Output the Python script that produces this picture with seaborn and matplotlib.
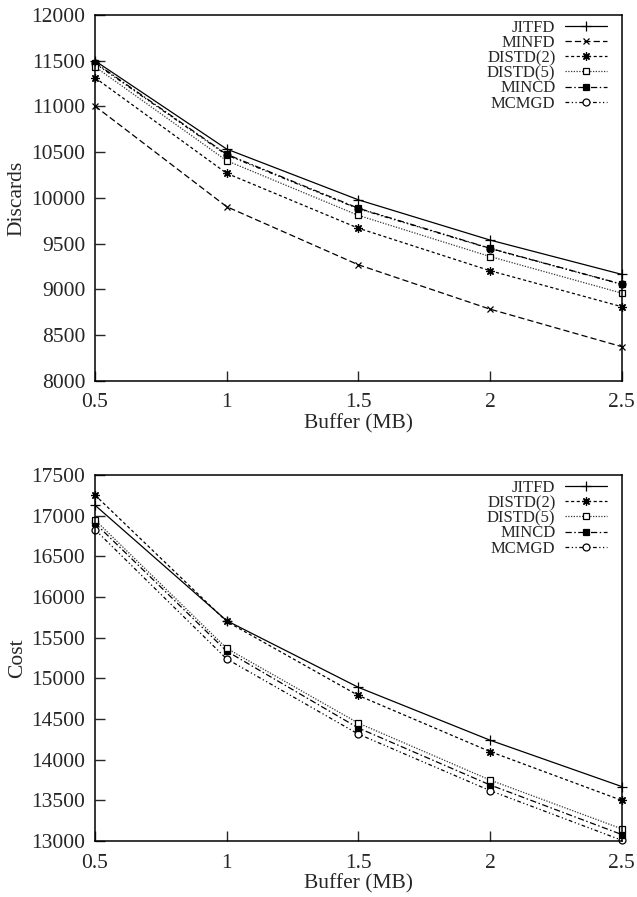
import pandas as pd
import matplotlib
matplotlib.use("Agg")
import matplotlib.pyplot as plt
import seaborn as sns

# buffer sizes (MB)
buffer_mb = [0.5, 1, 1.5, 2, 2.5]

# top panel: discards
jitfd_discards = [11500, 10535, 9980, 9540, 9165]
minfd_discards = [11005, 9905, 9270, 8785, 8375]
distd2_discards = [11315, 10270, 9670, 9205, 8812]
distd5_discards = [11435, 10408, 9810, 9360, 8960]
mincd_discards = [11480, 10478, 9888, 9450, 9058]
mcmgd_discards = [11472, 10470, 9882, 9447, 9056]

# bottom panel: cost
jitfd_cost = [17130, 15710, 14890, 14240, 13670]
distd2_cost = [17255, 15700, 14790, 14100, 13500]
distd5_cost = [16950, 15370, 14450, 13750, 13150]
mincd_cost = [16910, 15335, 14390, 13690, 13080]
mcmgd_cost = [16830, 15240, 14315, 13620, 13010]

discard_series = {
    "JITFD": jitfd_discards,
    "MINFD": minfd_discards,
    "DISTD(2)": distd2_discards,
    "DISTD(5)": distd5_discards,
    "MINCD": mincd_discards,
    "MCMGD": mcmgd_discards,
}
cost_series = {
    "JITFD": jitfd_cost,
    "DISTD(2)": distd2_cost,
    "DISTD(5)": distd5_cost,
    "MINCD": mincd_cost,
    "MCMGD": mcmgd_cost,
}

# gnuplot-ish line/point styles
styles = {
    "JITFD": dict(ls="-", marker="+", mfc="black", ms=7, color="black", z=2.5),
    "MINFD": dict(ls=(0, (5, 2.5)), marker="x", mfc="black", ms=5, color="black", z=2.4),
    "DISTD(2)": dict(ls=(0, (2.5, 2)), marker=(8, 2, 0), mfc="black", ms=6, color="black", z=2.3),
    "DISTD(5)": dict(ls=(0, (1, 1.2)), marker="s", mfc="white", ms=5, color="#333333", z=2.2),
    "MINCD": dict(ls=(0, (5, 2, 1.2, 2)), marker="s", mfc="black", ms=5, color="black", z=2.1),
    "MCMGD": dict(ls=(0, (3, 2, 1, 2, 1, 2)), marker="o", mfc="white", ms=5, color="black", z=2.0),
}

sns.set_style("ticks")
plt.rcParams["font.family"] = ["Liberation Serif", "DejaVu Serif"]

fig = plt.figure(figsize=(6.37, 8.97), dpi=100)
ax_top = fig.add_axes([0.149, 0.5753, 0.827, 0.408])
ax_bot = fig.add_axes([0.149, 0.0624, 0.827, 0.408])


def draw_panel(ax, series, ylabel, ylim, yticks):
    for name, vals in series.items():
        df = pd.DataFrame({"buffer": buffer_mb, "value": vals})
        st = styles[name]
        sns.lineplot(data=df, x="buffer", y="value", ax=ax, color=st["color"],
                     linestyle=st["ls"], marker=st["marker"], markersize=st["ms"],
                     markerfacecolor=st["mfc"], markeredgecolor="black",
                     markeredgewidth=0.9, linewidth=0.9, label=name,
                     zorder=st["z"], clip_on=False)
    ax.set_xlim(0.5, 2.5)
    ax.set_ylim(*ylim)
    ax.set_xticks(buffer_mb)
    ax.set_xticklabels(["0.5", "1", "1.5", "2", "2.5"])
    ax.set_yticks(yticks)
    ax.set_xlabel("Buffer (MB)", fontsize=15.5, labelpad=1)
    ax.set_ylabel(ylabel, fontsize=15.5, labelpad=3)
    ax.tick_params(direction="in", length=7, width=1, labelsize=15.5,
                   top=False, right=False)
    ax.tick_params(axis="x", pad=9)
    ax.tick_params(axis="y", pad=7)
    for sp in ax.spines.values():
        sp.set_visible(True)
        sp.set_linewidth(1.1)
        sp.set_color("black")
        sp.set_zorder(3)
    ax.legend(loc="upper right", frameon=False, markerfirst=False,
              fontsize=12, handlelength=2.5, handletextpad=0.6,
              labelspacing=-0.05, borderaxespad=0.0,
              bbox_to_anchor=(0.985, 1.005))


draw_panel(ax_top, discard_series, "Discards", (8000, 12000),
           list(range(8000, 12001, 500)))
draw_panel(ax_bot, cost_series, "Cost", (13000, 17500),
           list(range(13000, 17501, 500)))

fig.savefig("out.png", dpi=100)
